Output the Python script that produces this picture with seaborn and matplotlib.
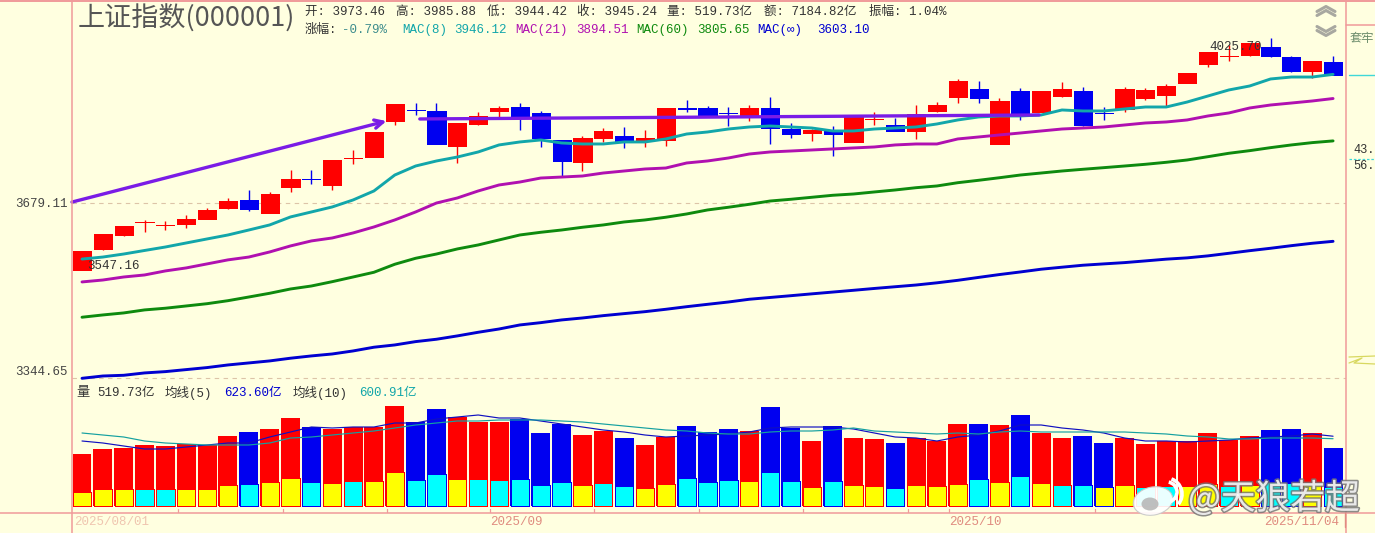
import numpy as np
import pandas as pd
import seaborn as sns
import matplotlib.pyplot as plt
import matplotlib.patheffects as pe
from matplotlib.patches import Ellipse, Arc

# candles, index points
open_px = [3547.2, 3588.2, 3615.6, 3641.0, 3635.1, 3637.4, 3647.3, 3669.2, 3685.2, 3659.2,
           3711.4, 3727.7, 3715.4, 3770.1, 3772.4, 3847.2, 3870.5, 3868.2, 3795.2, 3840.9,
           3868.2, 3876.6, 3864.0, 3807.6, 3762.2, 3811.8, 3815.9, 3805.6, 3807.6, 3873.6,
           3874.5, 3864.2, 3857.7, 3874.5, 3830.4, 3822.1, 3826.3, 3803.5, 3851.2, 3838.8,
           3826.3, 3868.2, 3897.8, 3914.8, 3799.3, 3910.6, 3866.1, 3899.9, 3910.6, 3864.2,
           3872.4, 3895.7, 3902.1, 3927.6, 3968.5, 3985.6, 3988.0, 4005.4, 3983.7, 3953.4, 3973.46]
close_px = [3584.2, 3617.6, 3633.4, 3641.3, 3635.4, 3647.3, 3665.2, 3683.1, 3667.2, 3697.2,
            3727.5, 3727.3, 3766.3, 3770.4, 3824.2, 3882.9, 3870.1, 3799.3, 3843.0, 3857.7,
            3874.5, 3857.7, 3811.8, 3764.3, 3811.8, 3826.3, 3805.6, 3811.8, 3874.5, 3873.2,
            3859.8, 3863.8, 3874.5, 3832.5, 3820.0, 3828.4, 3820.0, 3855.6, 3851.6, 3826.3,
            3861.9, 3880.8, 3931.9, 3895.7, 3889.3, 3864.0, 3910.6, 3914.8, 3838.8, 3863.8,
            3914.8, 3912.7, 3921.2, 3949.1, 3994.5, 3986.0, 4014.1, 3985.8, 3953.4, 3975.0, 3945.24]
high_px = [3584.2, 3617.6, 3633.4, 3645.3, 3643.3, 3655.3, 3669.2, 3689.2, 3705.3, 3701.3,
           3745.9, 3745.9, 3766.3, 3786.9, 3824.2, 3882.9, 3885.0, 3885.0, 3843.0, 3866.1,
           3878.7, 3885.0, 3868.2, 3807.6, 3815.9, 3832.5, 3834.6, 3828.4, 3874.5, 3891.4,
           3878.7, 3876.6, 3880.8, 3897.8, 3843.0, 3830.4, 3836.7, 3855.6, 3866.1, 3853.5,
           3880.8, 3887.1, 3936.2, 3931.9, 3895.7, 3917.0, 3910.6, 3929.8, 3919.1, 3876.6,
           3919.1, 3917.0, 3925.5, 3949.1, 3994.5, 4009.8, 4014.1, 4025.7, 3985.8, 3975.0, 3985.88]
low_px = [3547.16, 3586.2, 3613.6, 3621.5, 3625.4, 3629.4, 3647.3, 3667.2, 3663.2, 3659.2,
          3701.3, 3717.4, 3705.3, 3758.1, 3772.4, 3838.8, 3859.8, 3799.3, 3760.2, 3838.8,
          3853.5, 3828.4, 3793.1, 3733.6, 3743.8, 3803.5, 3791.1, 3793.1, 3795.2, 3866.1,
          3857.7, 3836.7, 3847.2, 3799.3, 3811.8, 3805.6, 3774.5, 3803.5, 3838.8, 3826.3,
          3809.7, 3866.1, 3885.0, 3885.0, 3799.3, 3849.3, 3866.1, 3897.8, 3836.7, 3849.3,
          3866.1, 3891.4, 3878.7, 3927.6, 3962.1, 3975.0, 3985.8, 3983.7, 3951.3, 3938.3, 3944.42]

# moving averages
mac8 = [3568.5, 3572.4, 3578.3, 3585.2, 3592.0, 3599.9, 3607.8, 3615.6, 3625.4, 3635.4,
        3651.3, 3661.2, 3671.2, 3685.2, 3703.3, 3735.6, 3754.0, 3764.3, 3772.4, 3782.8,
        3797.3, 3803.5, 3807.6, 3801.4, 3799.3, 3799.3, 3803.5, 3803.5, 3809.7, 3820.0,
        3824.2, 3830.4, 3834.6, 3836.7, 3834.6, 3832.5, 3826.3, 3826.3, 3830.4, 3832.5,
        3834.6, 3840.9, 3849.3, 3855.6, 3857.7, 3857.7, 3859.8, 3870.3, 3868.2, 3868.2,
        3872.4, 3876.6, 3876.6, 3887.1, 3899.9, 3912.7, 3921.2, 3936.2, 3940.4, 3940.4, 3946.12]
mac21 = [3524.3, 3528.0, 3533.8, 3537.7, 3545.5, 3551.3, 3559.1, 3566.9, 3572.4, 3582.3,
         3594.1, 3603.9, 3609.7, 3619.6, 3631.4, 3645.3, 3661.2, 3679.1, 3689.2, 3703.3,
         3715.4, 3721.4, 3729.5, 3731.5, 3733.6, 3739.7, 3743.8, 3747.9, 3749.9, 3760.2,
         3764.3, 3770.4, 3778.6, 3782.8, 3784.8, 3786.9, 3789.0, 3791.1, 3793.1, 3797.3,
         3799.3, 3799.3, 3809.7, 3813.8, 3818.0, 3822.1, 3826.3, 3830.4, 3832.5, 3834.6,
         3838.8, 3843.0, 3845.1, 3849.3, 3857.7, 3864.0, 3874.5, 3880.8, 3885.0, 3889.3, 3894.51]
mac60 = [3457.2, 3461.5, 3465.3, 3471.0, 3474.2, 3478.5, 3482.8, 3488.5, 3495.5, 3502.6,
         3510.8, 3516.5, 3524.8, 3533.8, 3542.9, 3558.4, 3570.0, 3578.3, 3588.2, 3596.0,
         3605.8, 3615.6, 3620.9, 3625.4, 3630.8, 3635.4, 3641.3, 3645.3, 3650.7, 3657.2,
         3665.2, 3670.6, 3676.5, 3683.1, 3686.6, 3690.6, 3694.6, 3697.2, 3701.3, 3705.3,
         3709.9, 3713.4, 3720.0, 3724.9, 3730.1, 3735.6, 3739.7, 3743.8, 3747.3, 3750.6,
         3754.0, 3757.5, 3761.6, 3766.3, 3773.1, 3780.1, 3785.5, 3791.7, 3797.3, 3802.1, 3805.65]
mac_inf = [3344.1, 3348.3, 3349.6, 3353.9, 3356.3, 3360.0, 3363.7, 3368.5, 3372.2, 3375.9,
           3380.9, 3385.1, 3388.7, 3394.3, 3401.2, 3405.4, 3411.6, 3416.0, 3422.2, 3429.0,
           3435.1, 3442.7, 3447.0, 3452.1, 3455.8, 3460.2, 3464.0, 3467.7, 3472.2, 3477.1,
           3481.6, 3486.0, 3491.2, 3494.6, 3498.0, 3501.5, 3504.9, 3508.3, 3511.8, 3515.1,
           3518.4, 3522.6, 3527.4, 3533.0, 3538.5, 3543.5, 3548.8, 3552.7, 3556.5, 3559.1,
           3561.6, 3564.9, 3568.3, 3570.8, 3574.7, 3579.7, 3584.8, 3589.5, 3594.6, 3599.3, 3603.1]

# hand drawn trend lines (bar number, price)
arrow_x = [-0.48, 14.6]
arrow_y = [3681.0, 3847.0]
flat_x = [16.2, 45.9]
flat_y = [3851.4, 3859.8]

# volume, 亿
vol = [463.5, 508.5, 517.5, 544.5, 535.5, 553.5, 544.5, 625.5, 661.5, 688.5,
       787.5, 706.5, 688.5, 706.5, 706.5, 895.5, 751.5, 868.5, 796.5, 751.5,
       751.5, 778.5, 652.5, 733.5, 634.5, 670.5, 607.5, 544.5, 616.5, 715.5,
       661.5, 688.5, 670.5, 886.5, 697.5, 580.5, 715.5, 607.5, 598.5, 562.5,
       607.5, 580.5, 733.5, 733.5, 724.5, 814.5, 652.5, 607.5, 625.5, 562.5,
       607.5, 553.5, 580.5, 580.5, 652.5, 589.5, 625.5, 679.5, 688.5, 652.5, 519.73]
vol_inner = [121.5, 148.5, 148.5, 148.5, 148.5, 148.5, 148.5, 184.5, 193.5, 211.5,
             247.5, 211.5, 202.5, 220.5, 220.5, 301.5, 229.5, 283.5, 238.5, 238.5,
             229.5, 238.5, 184.5, 211.5, 184.5, 202.5, 175.5, 157.5, 193.5, 247.5,
             211.5, 229.5, 220.5, 301.5, 220.5, 166.5, 220.5, 184.5, 175.5, 157.5,
             184.5, 175.5, 193.5, 238.5, 211.5, 265.5, 202.5, 184.5, 184.5, 166.5,
             184.5, 166.5, 175.5, 175.5, 193.5, 175.5, 184.5, 211.5, 202.5, 193.5, 166.5]
inner_yellow = [0, 1, 2, 5, 6, 7, 9, 10, 12, 14, 15, 18, 24, 27, 28, 32, 35, 37, 38, 40,
                41, 42, 44, 46, 49, 50, 53, 54, 56, 59]
vol_ma5 = [580.5, 562.5, 535.5, 508.5, 508.5, 526.5, 544.5, 562.5, 562.5, 616.5,
           661.5, 706.5, 697.5, 706.5, 706.5, 742.5, 742.5, 778.5, 796.5, 814.5,
           787.5, 787.5, 760.5, 733.5, 706.5, 679.5, 661.5, 634.5, 616.5, 625.5,
           634.5, 643.5, 661.5, 697.5, 706.5, 706.5, 706.5, 688.5, 652.5, 616.5,
           607.5, 580.5, 616.5, 634.5, 670.5, 724.5, 724.5, 697.5, 679.5, 652.5,
           607.5, 580.5, 580.5, 571.5, 580.5, 589.5, 607.5, 616.5, 625.5, 643.5, 623.6]
vol_ma10 = [652.5, 634.5, 616.5, 580.5, 562.5, 553.5, 544.5, 544.5, 544.5, 562.5,
            607.5, 616.5, 634.5, 652.5, 670.5, 697.5, 724.5, 742.5, 760.5, 760.5,
            769.5, 769.5, 769.5, 760.5, 751.5, 733.5, 715.5, 697.5, 679.5, 670.5,
            652.5, 643.5, 643.5, 661.5, 670.5, 670.5, 679.5, 697.5, 670.5, 661.5,
            652.5, 643.5, 652.5, 643.5, 661.5, 670.5, 661.5, 661.5, 661.5, 661.5,
            661.5, 652.5, 643.5, 625.5, 616.5, 598.5, 598.5, 607.5, 607.5, 607.5, 600.91]

BG = '#FFFFE0'
RED = '#FF0000'
BLUE = '#0000F0'
TEAL = '#12A6AA'
MAGENTA = '#B010B0'
GREEN = '#0E8A0E'
NAVY = '#0000D0'
VIOLET = '#7A1CE6'
PINK = '#F09A9A'
MONO = ['Liberation Mono', 'Noto Sans CJK SC', 'DejaVu Sans']

sns.set_style('white')
plt.rcParams['font.family'] = MONO

W, H = 1375, 533
fig = plt.figure(figsize=(W / 100, H / 100), dpi=100, facecolor=BG)


def pix_axes(x0, y0, x1, y1):
    # axes from pixel box, y counted from the top of the picture
    ax = fig.add_axes([x0 / W, 1 - y1 / H, (x1 - x0) / W, (y1 - y0) / H])
    ax.patch.set_alpha(0)
    return ax


ax_price = pix_axes(72, 0, 1346, 388)
ax_vol = pix_axes(72, 388, 1346, 505.5)
overlay = pix_axes(0, 0, W, H)
overlay.set_xlim(0, W)
overlay.set_ylim(H, 0)
overlay.axis('off')

df = pd.DataFrame({'day': np.arange(len(close_px)), 'open': open_px, 'close': close_px,
                   'high': high_px, 'low': low_px, 'mac8': mac8, 'mac21': mac21,
                   'mac60': mac60, 'mac_inf': mac_inf, 'vol': vol, 'vol_inner': vol_inner,
                   'vol_ma5': vol_ma5, 'vol_ma10': vol_ma10})
df['color'] = np.where(df['close'] >= df['open'], RED, BLUE)
df['inner_color'] = ['#FFFF00' if i in inner_yellow else '#00FFFF' for i in df['day']]

# price panel
ax_price.set_yscale('log')
ax_price.vlines(df['day'], df['low'], df['high'], colors=df['color'], lw=1.0, zorder=2)
ax_price.bar(df['day'], df['close'] - df['open'], bottom=df['open'], width=0.87,
             color=df['color'], edgecolor=df['color'], lw=0.72, antialiased=False, zorder=3)
for col, c in [('mac_inf', NAVY), ('mac60', GREEN), ('mac21', MAGENTA), ('mac8', TEAL)]:
    sns.lineplot(data=df, x='day', y=col, color=c, lw=2.1, ax=ax_price, zorder=4, errorbar=None)
sns.lineplot(x=flat_x, y=flat_y, color=VIOLET, lw=2.4, ax=ax_price, zorder=5, errorbar=None)
ax_price.annotate('', xy=(arrow_x[1], arrow_y[1]), xytext=(arrow_x[0], arrow_y[0]), zorder=5,
                  arrowprops=dict(arrowstyle='->', color=VIOLET, lw=2.4, mutation_scale=15,
                                  shrinkA=0, shrinkB=0))
for level in [3679.11, 3344.65]:
    ax_price.axhline(level, color='#DCC4A8', lw=0.8, ls=(0, (4, 4)), zorder=1)

# 175 px between the two printed levels
per_px = np.log(3679.11 / 3344.65) / 175
ax_price.set_ylim(3679.11 * np.exp(-per_px * 185), 3679.11 * np.exp(per_px * 203))
ax_price.set_xlim(-0.48, 60.62)
ax_price.axis('off')

# volume panel
sns.barplot(data=df, x='day', y='vol', color=RED, width=0.91, saturation=1, ax=ax_vol)
for bar, c in zip(ax_vol.containers[0], df['color']):
    bar.set_facecolor(c)
    bar.set_edgecolor('none')
    bar.set_linewidth(0)
    bar.set_antialiased(False)
    bar.set_clip_on(False)
sns.barplot(data=df, x='day', y='vol_inner', color='#FFFF00', width=0.875, saturation=1, ax=ax_vol)
for bar, c, e in zip(ax_vol.containers[1], df['inner_color'], df['color']):
    bar.set_facecolor(c)
    bar.set_edgecolor(e)
    bar.set_linewidth(0.72)
    bar.set_antialiased(False)
    bar.set_clip_on(False)
sns.lineplot(data=df, x='day', y='vol_ma5', color='#1010C0', lw=0.85, ax=ax_vol, errorbar=None)
sns.lineplot(data=df, x='day', y='vol_ma10', color='#14A0A0', lw=0.85, ax=ax_vol, errorbar=None)
ax_vol.set_ylim(0, 1057.5)
ax_vol.set_xlim(-0.48, 60.62)
ax_vol.axis('off')

# frame
for x in [72, 1346]:
    overlay.plot([x, x], [1, H], color=PINK, lw=1.1, zorder=1)
overlay.plot([0, W], [1, 1], color=PINK, lw=1.4, zorder=1)
overlay.plot([0, W], [512.5, 512.5], color=PINK, lw=1.1, zorder=1)
overlay.plot([1346, W], [24.5, 24.5], color=PINK, lw=1.1, zorder=1)
for x in [178, 283, 387, 490, 594, 699, 803, 908, 949, 1095]:
    overlay.plot([x, x], [509, 512], color=PINK, lw=0.9, zorder=1)

# right side panel remains
overlay.plot([1349, W], [75, 75], color='#40D8D8', lw=1.0)
overlay.plot([1349, W], [159, 159], color='#40D8D8', lw=0.9, ls=(0, (2, 1.5)))
overlay.plot([1349, 1362, 1354, 1375], [363, 358, 363, 364], color='#D8D860', lw=0.9)
overlay.plot([1349, 1375], [357, 356], color='#D8D860', lw=0.9)

# the two chevron buttons
for y0, d in [(9, -1), (13, -1), (29, 1), (33, 1)]:
    overlay.plot([1317, 1326, 1335], [y0 - d * 2.5, y0 + d * 2.5, y0 - d * 2.5], color='#A8A8A0', lw=2.2)


def label(x, y, s, color='#333333', size=9.0, **kw):
    kw.setdefault('zorder', 8)
    overlay.text(x, y, s, color=color, fontsize=size, va='center', **kw)


label(78, 19, '上证指数(000001)', color='#555555', size=19.5, family=['Noto Sans CJK SC'])

for x, s in [(305, '开: 3973.46'), (396, '高: 3985.88'), (487, '低: 3944.42'), (577, '收: 3945.24'),
             (667, '量: 519.73亿'), (764, '额: 7184.82亿'), (869, '振幅: 1.04%')]:
    label(x, 12, s)
label(305, 30, '涨幅:')
label(342, 30, '-0.79%', color='#3C8C8C')
for x, s, c in [(402, 'MAC(8)', TEAL), (454, '3946.12', TEAL), (515, 'MAC(21)', MAGENTA),
                (576, '3894.51', MAGENTA), (636, 'MAC(60)', GREEN), (697, '3805.65', GREEN),
                (757, 'MAC(∞)', NAVY), (817, '3603.10', NAVY)]:
    label(x, 30, s, color=c)

label(68, 204, '3679.11', color='#444444', ha='right')
label(68, 372, '3344.65', color='#444444', ha='right')
label(87, 266, '3547.16', color='#333333')
label(1209, 47, '4025.70', color='#333333')

label(76, 393, '量', size=9.5)
label(97, 393, '519.73亿')
label(165, 393, '均线(5)')
label(224, 393, '623.60亿', color=NAVY)
label(293, 393, '均线(10)')
label(359, 393, '600.91亿', color=TEAL)

label(1350, 39, '套牢', color='#6C8C6C', size=8.8)
label(1353, 150, '43.', color='#333333', size=8.6)
label(1353, 166, '56.', color='#333333', size=8.6)

label(490, 522, '2025/09', color='#E08C80')
label(949, 522, '2025/10', color='#E08C80')
label(1264, 522, '2025/11/04', color='#E08C80')
label(74, 522, '2025/08/01', color='#E08C80', alpha=0.5)
overlay.plot([1345, 1345], [513, 527], color='#E08C80', lw=1.0)

# weibo watermark
shadow = [pe.withStroke(linewidth=2.2, foreground=(0.45, 0.45, 0.45, 0.35))]
wm = dict(color='white', alpha=0.82, zorder=9)
overlay.add_patch(Ellipse((1153, 501), 40, 28, angle=-12, fc='white', ec='#C8C8C8', lw=0.8, alpha=0.92, zorder=9))
overlay.add_patch(Ellipse((1150, 504), 17, 13, fc='#B8B8B8', ec='none', alpha=0.9, zorder=9))
overlay.add_patch(Arc((1167, 492), 20, 20, theta1=-80, theta2=70, ec='white', lw=2.6, zorder=9))
overlay.add_patch(Arc((1166, 494), 32, 32, angle=-30, theta1=-40, theta2=70, ec='white', lw=2.6, zorder=9))
overlay.text(1188, 499, '@天狼若超', fontsize=25, va='center', family=['Noto Sans CJK SC'],
             path_effects=shadow, **wm)

fig.savefig('out.png', dpi=100, facecolor=BG)
